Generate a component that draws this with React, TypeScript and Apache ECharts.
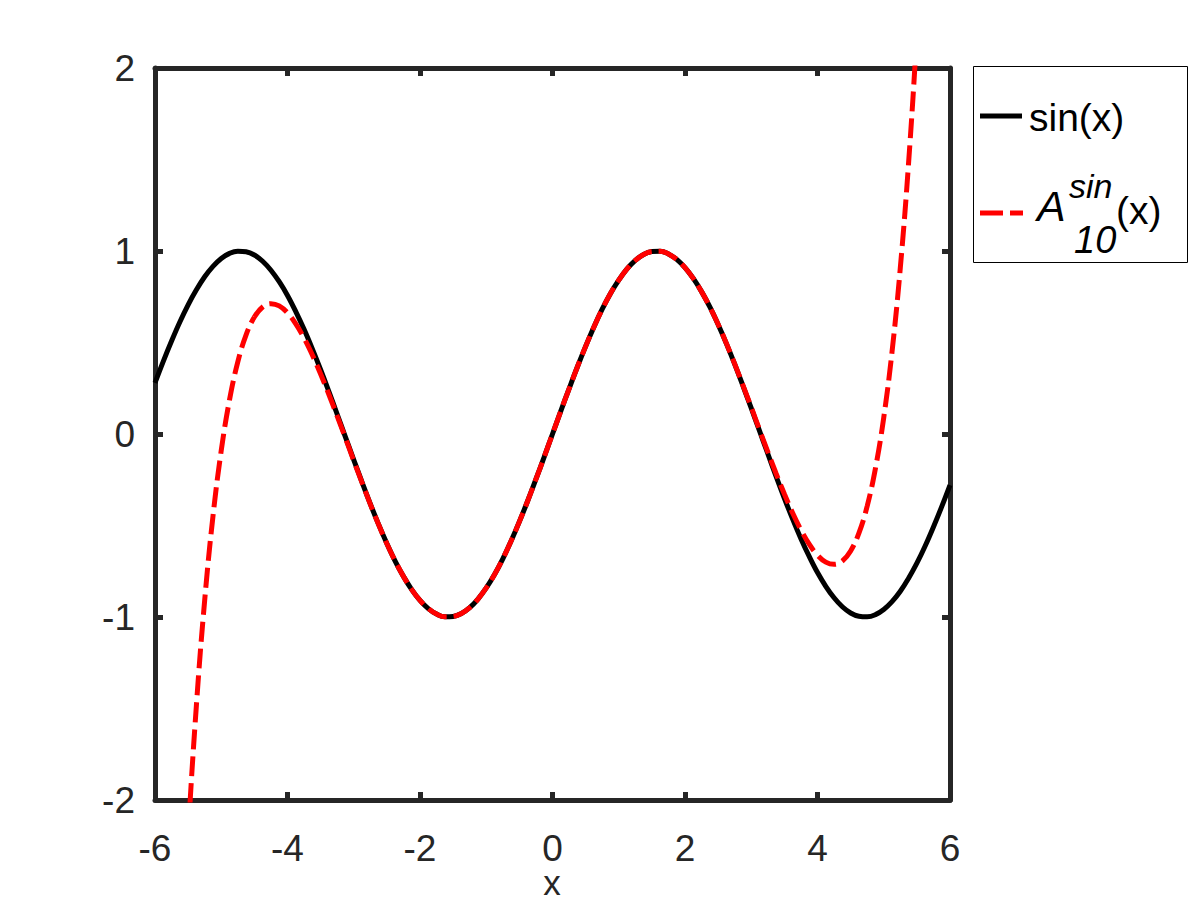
import React, { useEffect, useRef } from "react";
import * as echarts from "echarts";

const xValues = [
  -6, -5.875, -5.75, -5.625, -5.5, -5.375, -5.25, -5.125, -5, -4.875, -4.75,
  -4.625, -4.5, -4.375, -4.25, -4.125, -4, -3.875, -3.75, -3.625, -3.5,
  -3.375, -3.25, -3.125, -3, -2.875, -2.75, -2.625, -2.5, -2.375, -2.25,
  -2.125, -2, -1.875, -1.75, -1.625, -1.5, -1.375, -1.25, -1.125, -1, -0.875,
  -0.75, -0.625, -0.5, -0.375, -0.25, -0.125, 0,
  0.125, 0.25, 0.375, 0.5, 0.625, 0.75, 0.875, 1, 1.125, 1.25, 1.375, 1.5,
  1.625, 1.75, 1.875, 2, 2.125, 2.25, 2.375, 2.5, 2.625, 2.75, 2.875, 3,
  3.125, 3.25, 3.375, 3.5, 3.625, 3.75, 3.875, 4, 4.125, 4.25, 4.375, 4.5,
  4.625, 4.75, 4.875, 5, 5.125, 5.25, 5.375, 5.5, 5.625, 5.75, 5.875, 6,
];

const sinValues = [
  0.279, 0.397, 0.508, 0.612, 0.706, 0.788, 0.859, 0.916, 0.959, 0.987, 0.999,
  0.996, 0.978, 0.944, 0.895, 0.832, 0.757, 0.669, 0.572, 0.465, 0.351,
  0.231, 0.108, -0.017, -0.141, -0.263, -0.382, -0.494, -0.598, -0.694, -0.778,
  -0.85, -0.909, -0.954, -0.984, -0.999, -0.997, -0.981, -0.949, -0.902, -0.841, -0.768,
  -0.682, -0.585, -0.479, -0.366, -0.247, -0.125, 0,
  0.125, 0.247, 0.366, 0.479, 0.585, 0.682, 0.768, 0.841, 0.902, 0.949, 0.981, 0.997,
  0.999, 0.984, 0.954, 0.909, 0.85, 0.778, 0.694, 0.598, 0.494, 0.382, 0.263, 0.141,
  0.017, -0.108, -0.231, -0.351, -0.465, -0.572, -0.669, -0.757, -0.832, -0.895, -0.944, -0.978,
  -0.996, -0.999, -0.987, -0.959, -0.916, -0.859, -0.788, -0.706, -0.612, -0.508, -0.397, -0.279,
];

const approxValues = [
  -7.03, -5.45, -4.146, -3.072, -2.195, -1.482, -0.908, -0.449, -0.09, 0.187, 0.394,
  0.542, 0.639, 0.694, 0.712, 0.7, 0.662, 0.602, 0.524, 0.432, 0.328,
  0.216, 0.098, -0.023, -0.146, -0.266, -0.383, -0.495, -0.6, -0.694, -0.778,
  -0.85, -0.909, -0.954, -0.984, -0.999, -0.997, -0.981, -0.949, -0.902, -0.841, -0.768,
  -0.682, -0.585, -0.479, -0.366, -0.247, -0.125, 0,
  0.125, 0.247, 0.366, 0.479, 0.585, 0.682, 0.768, 0.841, 0.902, 0.949, 0.981, 0.997,
  0.999, 0.984, 0.954, 0.909, 0.85, 0.778, 0.694, 0.6, 0.495, 0.383, 0.266, 0.146,
  0.023, -0.098, -0.216, -0.328, -0.432, -0.524, -0.602, -0.662, -0.7, -0.712, -0.694, -0.639,
  -0.542, -0.394, -0.187, 0.09, 0.449, 0.908, 1.482, 2.195, 3.072, 4.146, 5.45, 7.03,
];

const xTicks = { min: -6, max: 6, interval: 2 };
const yTicks = { min: -2, max: 2, interval: 1 };
const xAxisTitle = "x";

const FONT = "'Liberation Sans', Arial, Helvetica, sans-serif";
const AXIS_COLOR = "#262626";

export default function App() {
  const ref = useRef<HTMLDivElement>(null);

  useEffect(() => {
    if (!ref.current) return;
    const chart = echarts.init(ref.current, null, { renderer: "svg" });

    const frameAxis = {
      axisLine: { show: true, onZero: false, lineStyle: { color: AXIS_COLOR, width: 5 } },
      axisTick: { show: true, inside: true, length: 8, lineStyle: { color: AXIS_COLOR, width: 5 } },
      splitLine: { show: false },
    };

    const option = {
      animation: false,
      backgroundColor: "#ffffff",
      grid: {
        left: 155,
        right: 250,
        top: 68,
        bottom: 100,
        containLabel: false,
        outerBoundsMode: "none",
      },
      xAxis: [
        {
          type: "value",
          position: "bottom",
          ...xTicks,
          ...frameAxis,
          axisLabel: {
            show: true,
            color: AXIS_COLOR,
            fontSize: 37,
            lineHeight: 30,
            fontFamily: FONT,
            margin: 33,
          },
        },
        {
          type: "value",
          position: "top",
          ...xTicks,
          ...frameAxis,
          axisLabel: { show: false },
        },
      ],
      yAxis: [
        {
          type: "value",
          position: "left",
          ...yTicks,
          ...frameAxis,
          axisLabel: {
            show: true,
            color: AXIS_COLOR,
            fontSize: 37,
            fontFamily: FONT,
            margin: 20,
          },
        },
        {
          type: "value",
          position: "right",
          ...yTicks,
          ...frameAxis,
          axisLabel: { show: false },
        },
      ],
      series: [
        {
          name: "sin(x)",
          type: "line",
          data: xValues.map((x, i) => [x, sinValues[i]]),
          smooth: 0.4,
          symbol: "none",
          clip: true,
          lineStyle: { color: "#000000", width: 5 },
          z: 2,
        },
        {
          name: "A10sin(x)",
          type: "line",
          data: xValues.map((x, i) => [x, approxValues[i]]),
          smooth: 0.4,
          symbol: "none",
          clip: true,
          lineStyle: { color: "#ff0000", width: 5, type: [20, 7] },
          z: 3,
        },
      ],
      graphic: [
        {
          type: "text",
          x: 552,
          y: 882,
          style: {
            text: xAxisTitle,
            fontSize: 35,
            lineHeight: 22,
            fontFamily: FONT,
            fill: AXIS_COLOR,
            align: "center",
            verticalAlign: "middle",
          },
          z: 11,
        },
        {
          type: "rect",
          shape: { x: 973.5, y: 66.5, width: 214, height: 196 },
          style: { fill: "#ffffff", stroke: "#000000", lineWidth: 1 },
          z: 10,
        },
        {
          type: "line",
          shape: { x1: 980, y1: 116, x2: 1022, y2: 116 },
          style: { stroke: "#000000", lineWidth: 5 },
          z: 11,
        },
        {
          type: "text",
          x: 1029,
          y: 117,
          style: { text: "sin(x)", fontSize: 39, fontFamily: FONT, fill: "#000000", align: "left", verticalAlign: "middle" },
          z: 11,
        },
        {
          type: "line",
          shape: { x1: 980, y1: 213, x2: 1023, y2: 213 },
          style: { stroke: "#ff0000", lineWidth: 5, lineDash: [23, 7] },
          z: 11,
        },
        {
          type: "text",
          x: 1037,
          y: 206,
          style: { text: "A", fontSize: 43, fontStyle: "italic", fontFamily: FONT, fill: "#000000", align: "left", verticalAlign: "middle" },
          z: 11,
        },
        {
          type: "text",
          x: 1069,
          y: 186,
          style: { text: "sin", fontSize: 34, fontStyle: "italic", fontFamily: FONT, fill: "#000000", align: "left", verticalAlign: "middle" },
          z: 11,
        },
        {
          type: "text",
          x: 1074,
          y: 240,
          style: { text: "10", fontSize: 38, fontStyle: "italic", fontFamily: FONT, fill: "#000000", align: "left", verticalAlign: "middle" },
          z: 11,
        },
        {
          type: "text",
          x: 1116,
          y: 210,
          style: { text: "(x)", fontSize: 39, fontFamily: FONT, fill: "#000000", align: "left", verticalAlign: "middle" },
          z: 11,
        },
      ],
    };

    chart.setOption(option as any);
    return () => chart.dispose();
  }, []);

  return (
    <div
      ref={ref}
      style={{ position: "fixed", left: 0, top: 0, width: 1200, height: 900, background: "#fff" }}
    />
  );
}
